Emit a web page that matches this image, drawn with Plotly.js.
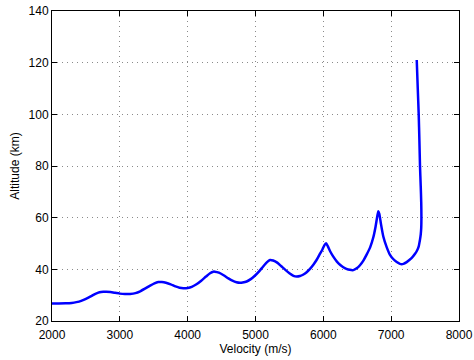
<!DOCTYPE html>
<html>
<head>
<meta charset="utf-8">
<script src="https://cdn.plot.ly/plotly-3.0.1.min.js"></script>
<style>html,body{margin:0;padding:0;background:#fff;}#chart{width:474px;height:360px;}</style>
</head>
<body>
<div id="chart"></div>
<script>
// Trajectory in flight order (entry at top, then skipping down)
const velocity = [7377,7392,7406,7416,7425,7436,7443,7446,7443,7436,7425,7405,7380,7352,7300,7229,7180,7130,7082,7030,6983,6935,6885,6850,6825,6811,6795,6770,6737,6690,6640,6590,6540,6492,6442,6390,6340,6295,6250,6200,6147,6100,6065,6040,6015,5985,5940,5900,5853,5800,5750,5700,5656,5607,5560,5500,5440,5380,5320,5260,5214,5170,5110,5050,4990,4930,4870,4810,4772,4720,4660,4600,4530,4460,4400,4378,4330,4270,4200,4130,4060,4000,3936,3880,3820,3750,3680,3620,3567,3510,3440,3370,3300,3230,3150,3076,3000,2930,2860,2800,2756,2700,2640,2570,2500,2430,2360,2290,2200,2100,2000];
const altitude = [121,110,100,90,80,72,66,60,56,53.5,51.5,48.8,47.2,46.0,44.3,42.8,42.1,42.1,42.8,44,45.6,48.5,52.6,57.5,61.5,62.5,60.5,56.5,52.4,48.5,45.8,43.4,41.6,40.4,39.7,39.8,40.2,40.8,41.7,43.0,44.9,47.0,49.0,50.1,49.3,47.6,45.5,43.6,41.8,40.1,38.8,37.9,37.4,37.2,37.5,38.5,39.8,41.2,42.6,43.4,43.6,42.8,41,39.1,37.5,36.2,35.3,34.9,34.8,35,35.6,36.5,37.7,38.7,39.1,39.1,38.5,37.2,35.6,34.2,33.2,32.8,32.7,32.9,33.4,34.2,34.8,35.1,35.1,34.6,33.6,32.5,31.5,30.8,30.5,30.45,30.6,30.9,31.2,31.3,31.3,31.1,30.5,29.5,28.6,27.8,27.3,27.0,26.85,26.8,26.8];
const xTicks = [2000,3000,4000,5000,6000,7000,8000];
const yTicks = [20,40,60,80,100,120,140];

const font = {family: 'Liberation Sans, Arial, sans-serif', size: 12, color: '#000'};
const axisCommon = {
  showline: true, linecolor: '#000', linewidth: 1, mirror: 'ticks',
  ticks: 'inside', ticklen: 5, tickcolor: '#000', tickwidth: 1,
  showgrid: true, gridcolor: '#8a8a8a', griddash: '1px,4px', gridwidth: 1,
  zeroline: false, tickfont: font
};
Plotly.newPlot('chart', [{
  x: velocity, y: altitude, type: 'scatter', mode: 'lines',
  line: {color: '#0000ff', width: 2.5, shape: 'spline', smoothing: 0.6},
  hoverinfo: 'skip'
}], {
  width: 474, height: 360,
  margin: {l: 52, r: 15, t: 11, b: 39, pad: 0},
  paper_bgcolor: '#fff', plot_bgcolor: '#fff',
  showlegend: false,
  font: font,
  xaxis: Object.assign({}, axisCommon, {
    range: [2000, 8000], tickvals: xTicks, ticktext: xTicks.map(String),
    ticklabelstandoff: 3,
    title: {text: 'Velocity (m/s)', font: font, standoff: 1}
  }),
  yaxis: Object.assign({}, axisCommon, {
    range: [20, 140], tickvals: yTicks, ticktext: yTicks.map(String),
    title: {text: 'Altitude (km)', font: font, standoff: 6}
  })
}, {staticPlot: true});
</script>
</body>
</html>
